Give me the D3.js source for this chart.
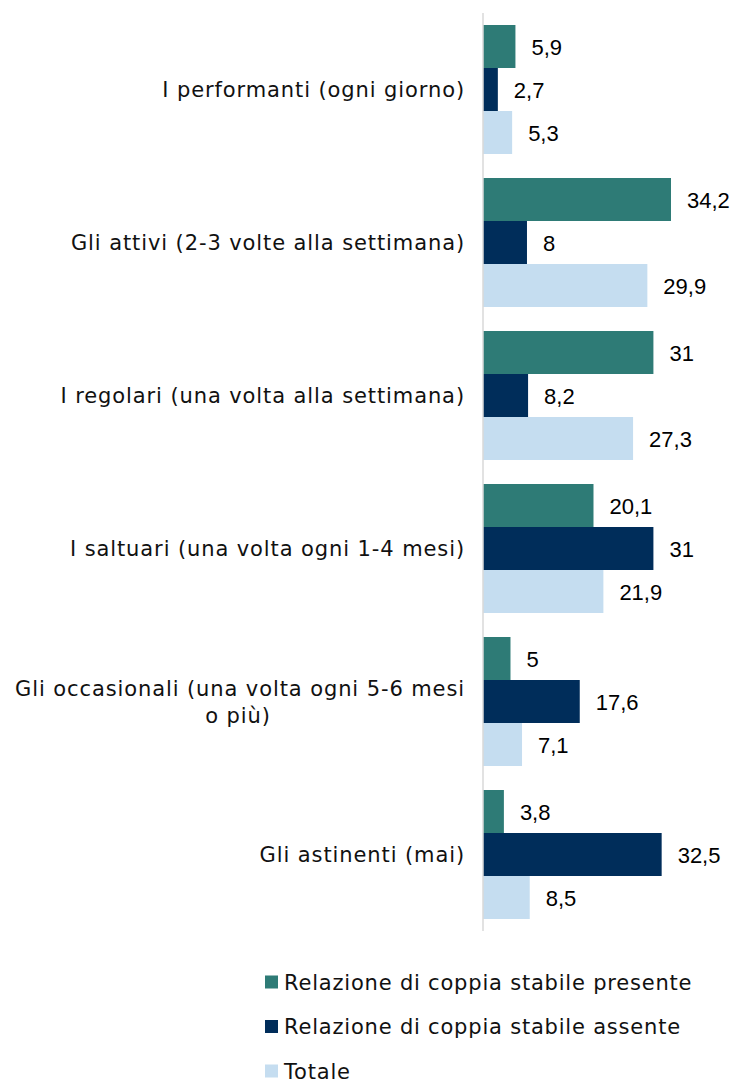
<!DOCTYPE html>
<html>
<head>
<meta charset="utf-8">
<script src="https://cdn.jsdelivr.net/npm/d3@7"></script>
<style>
  body { margin: 0; background: #fff; }
  svg { display: block; }
</style>
</head>
<body>
<svg id="chart"></svg>
<script>
const categories = [
  ['I performanti (ogni giorno)'],
  ['Gli attivi (2-3 volte alla settimana)'],
  ['I regolari (una volta alla settimana)'],
  ['I saltuari (una volta ogni 1-4 mesi)'],
  ['Gli occasionali (una volta ogni 5-6 mesi', 'o più)'],
  ['Gli astinenti (mai)'],
];
const seriesNames = [
  'Relazione di coppia stabile presente',
  'Relazione di coppia stabile assente',
  'Totale',
];
const presente = [5.9, 34.2, 31, 20.1, 5, 3.8];
const assente = [2.7, 8, 8.2, 31, 17.6, 32.5];
const totale = [5.3, 29.9, 27.3, 21.9, 7.1, 8.5];

const colors = ['#2e7b76', '#002d5a', '#c5ddf0'];
const series = [presente, assente, totale];

const width = 737;
const height = 1084;
const plotLeft = 483;
const plotTop = 13;
const plotBottom = 931;

const labelFont = 'DejaVu Sans, sans-serif';
const valueFont = 'Liberation Sans, Arial, sans-serif';

const svg = d3.select('#chart').attr('width', width).attr('height', height);

const x = d3.scaleLinear().domain([0, 34.2]).range([plotLeft, 671]);
const y0 = d3.scaleBand()
  .domain(categories.map((d, i) => i))
  .range([plotTop, plotBottom])
  .paddingInner(24 / 153)
  .paddingOuter(12 / 153);
const y1 = d3.scaleBand().domain([0, 1, 2]).range([0, y0.bandwidth()]);

const groups = svg.selectAll('.group')
  .data(categories)
  .enter().append('g')
  .attr('class', 'group')
  .attr('transform', (d, i) => `translate(0,${y0(i)})`);

groups.each(function (d, i) {
  const g = d3.select(this);
  series.forEach((s, k) => {
    g.append('rect')
      .attr('x', x(0))
      .attr('y', y1(k))
      .attr('width', x(s[i]) - x(0))
      .attr('height', y1.bandwidth())
      .attr('fill', colors[k]);
    g.append('text')
      .attr('x', x(s[i]) + 16)
      .attr('y', y1(k) + y1.bandwidth() / 2)
      .attr('dy', '0.38em')
      .attr('font-family', valueFont)
      .attr('font-size', 22)
      .attr('fill', '#000')
      .text(String(s[i]).replace('.', ','));
  });
  // category label
  const lines = d;
  const lh = 27;
  const cy = y0.bandwidth() / 2;
  const t = g.append('text')
    .attr('font-family', labelFont)
    .attr('font-size', 21)
    .attr('letter-spacing', 0.9)
    .attr('fill', '#111');
  if (lines.length === 1) {
    t.append('tspan').attr('x', 465).attr('y', cy).attr('dy', '0.36em')
      .attr('text-anchor', 'end').text(lines[0]);
  } else {
    t.append('tspan').attr('x', 465).attr('y', cy - lh / 2).attr('dy', '0.36em')
      .attr('text-anchor', 'end').text(lines[0]);
    t.append('tspan').attr('x', 238).attr('y', cy + lh / 2).attr('dy', '0.36em')
      .attr('text-anchor', 'middle').text(lines[1]);
  }
});

// axis line
svg.append('line')
  .attr('x1', plotLeft).attr('x2', plotLeft)
  .attr('y1', plotTop).attr('y2', plotBottom)
  .attr('stroke', '#d9d9d9')
  .attr('stroke-width', 1.5);

// legend
const legend = svg.append('g').attr('transform', 'translate(265,982)');
seriesNames.forEach((name, k) => {
  const row = legend.append('g').attr('transform', `translate(0,${k * 44.5})`);
  row.append('rect').attr('x', 0).attr('y', -6.5).attr('width', 13).attr('height', 13)
    .attr('fill', colors[k]);
  row.append('text').attr('x', 19).attr('y', 0).attr('dy', '0.36em')
    .attr('font-family', labelFont)
    .attr('font-size', 21)
    .attr('letter-spacing', 0.8)
    .attr('fill', '#111')
    .text(name);
});
</script>
</body>
</html>
